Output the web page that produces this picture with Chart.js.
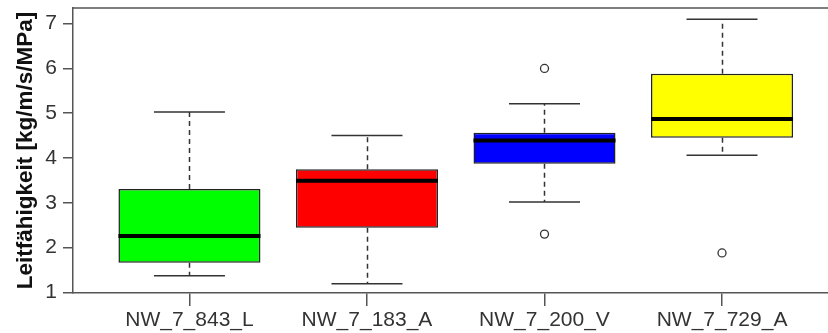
<!DOCTYPE html>
<html>
<head>
<meta charset="utf-8">
<script src="https://cdn.jsdelivr.net/npm/chart.js@4"></script>
<style>
  html, body { margin: 0; padding: 0; background: #fff; }
  #wrap { width: 828px; height: 333px; }
</style>
</head>
<body>
<div id="wrap"><canvas id="boxChart" width="828" height="333"></canvas></div>
<script>
// Proben (Kategorien) und Kennwerte der Boxplots
const labels = ['NW_7_843_L', 'NW_7_183_A', 'NW_7_200_V', 'NW_7_729_A'];
const whiskerLow = [1.37, 1.19, 3.02, 4.06];
const q1 = [1.66, 2.44, 3.87, 4.45];
const median = [2.26, 3.49, 4.39, 4.87];
const q3 = [3.31, 3.75, 4.565, 5.88];
const whiskerHigh = [5.03, 4.50, 5.21, 7.10];
// Ausreißer: [Index der Probe, Wert]
const outliers = [[2, 6.0], [2, 2.30], [3, 1.88]];
const yTicks = [1, 2, 3, 4, 5, 6, 7];
const boxColors = ['#00ff00', '#ff0000', '#0000ff', '#ffff00'];

const boxData = labels.map((l, i) => ({ x: i + 1, y: [q1[i], q3[i]] }));
const outlierData = outliers.map(o => ({ x: o[0] + 1, y: o[1] }));

// Whisker (gestrichelt), Kappen und Median über die Skalen zeichnen
const boxplotExtras = {
    id: 'boxplotExtras',
    beforeDatasetsDraw(chart) {
        const { ctx, scales: { x, y } } = chart;
        ctx.save();
        ctx.strokeStyle = '#333';
        ctx.lineWidth = 1.5;
        labels.forEach((l, i) => {
            const cx = Math.round(x.getPixelForValue(i + 1)) + 0.5;
            ctx.setLineDash([5, 4]);
            ctx.beginPath();
            ctx.moveTo(cx, y.getPixelForValue(q3[i]));
            ctx.lineTo(cx, y.getPixelForValue(whiskerHigh[i]));
            ctx.moveTo(cx, y.getPixelForValue(q1[i]));
            ctx.lineTo(cx, y.getPixelForValue(whiskerLow[i]));
            ctx.stroke();
            ctx.setLineDash([]);
            ctx.beginPath();
            [whiskerHigh[i], whiskerLow[i]].forEach(v => {
                const py = y.getPixelForValue(v);
                ctx.moveTo(x.getPixelForValue(i + 0.8), py);
                ctx.lineTo(x.getPixelForValue(i + 1.2), py);
            });
            ctx.stroke();
        });
        ctx.restore();
    },
    afterDatasetsDraw(chart) {
        const { ctx, chartArea, scales: { x, y } } = chart;
        ctx.save();
        ctx.strokeStyle = '#000';
        ctx.lineWidth = 4;
        labels.forEach((l, i) => {
            const py = y.getPixelForValue(median[i]);
            ctx.beginPath();
            ctx.moveTo(x.getPixelForValue(i + 0.6), py);
            ctx.lineTo(x.getPixelForValue(i + 1.4), py);
            ctx.stroke();
        });
        // obere Rahmenlinie
        ctx.strokeStyle = '#555';
        ctx.lineWidth = 1.5;
        ctx.beginPath();
        ctx.moveTo(chartArea.left, chartArea.top);
        ctx.lineTo(chartArea.right, chartArea.top);
        ctx.stroke();
        ctx.restore();
    }
};

const ctx = document.getElementById('boxChart').getContext('2d');
new Chart(ctx, {
    type: 'bar',
    data: {
        datasets: [{
            type: 'bar',
            data: boxData,
            backgroundColor: boxColors,
            borderColor: '#222',
            borderWidth: 1.5,
            borderSkipped: false,
            barPercentage: 0.8,
            categoryPercentage: 1.0,
            order: 2
        }, {
            type: 'scatter',
            data: outlierData,
            pointStyle: 'circle',
            pointRadius: 4,
            pointBackgroundColor: '#fff',
            pointBorderColor: '#333',
            pointBorderWidth: 1.3,
            order: 1
        }]
    },
    options: {
        responsive: false,
        animation: false,
        layout: { autoPadding: false, padding: { top: 8, right: 0, left: 0, bottom: 0 } },
        plugins: { legend: { display: false }, tooltip: { enabled: false } },
        scales: {
            x: {
                type: 'linear',
                min: 0.344,
                max: 4.597,
                offset: false,
                afterFit(scale) {
                    scale.height = 40;
                    scale.paddingLeft = 0;
                    scale.paddingRight = 0;
                },
                afterBuildTicks(scale) {
                    scale.ticks = labels.map((l, i) => ({ value: i + 1 }));
                },
                grid: { offset: false, drawOnChartArea: false, drawTicks: true, tickLength: 13, color: '#555', lineWidth: 1.5 },
                border: { display: true, color: '#555', width: 1.5 },
                ticks: {
                    autoSkip: false,
                    maxRotation: 0,
                    padding: 2,
                    color: '#333',
                    font: { family: 'Liberation Sans', size: 21 },
                    callback: (v) => labels[Math.round(v) - 1] || ''
                }
            },
            y: {
                type: 'linear',
                min: 0.985,
                max: 7.35,
                beginAtZero: false,
                afterFit(scale) {
                    scale.width = 73;
                    scale.paddingTop = 0;
                    scale.paddingBottom = 0;
                },
                afterBuildTicks(scale) {
                    scale.ticks = yTicks.map(v => ({ value: v }));
                },
                grid: { drawOnChartArea: false, drawTicks: true, tickLength: 10, color: '#555', lineWidth: 1.5 },
                border: { display: true, color: '#555', width: 1.5 },
                ticks: {
                    padding: 6,
                    color: '#333',
                    font: { family: 'Liberation Sans', size: 21 }
                },
                title: {
                    display: true,
                    text: 'Leitfähigkeit [kg/m/s/MPa]',
                    color: '#111',
                    font: { family: 'Liberation Sans', size: 22.5, weight: 'bold' },
                    padding: { top: 12, bottom: 0 }
                }
            }
        }
    },
    plugins: [boxplotExtras]
});
</script>
</body>
</html>
